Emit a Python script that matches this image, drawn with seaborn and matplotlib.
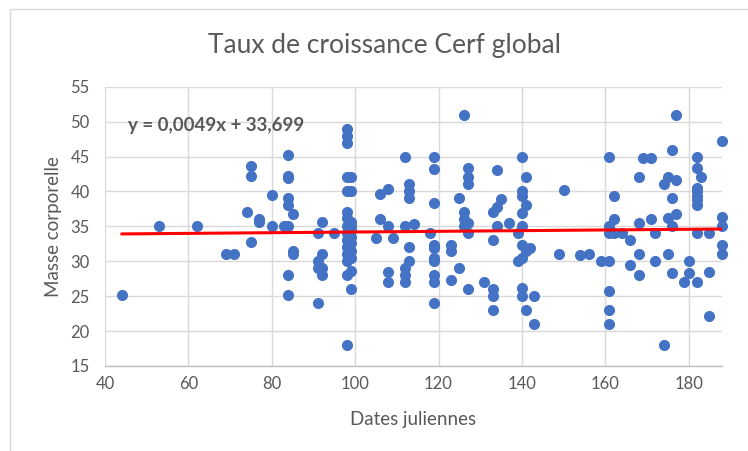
import numpy as np
import pandas as pd
import seaborn as sns
import matplotlib.pyplot as plt
from matplotlib.patches import Rectangle

# Julian dates (days) and body mass of each deer
jours = [
    44, 53, 62, 69, 71, 74,
    75, 75, 75, 77, 77, 80, 80, 83,
    84, 84, 84, 84, 84, 84, 84, 84,
    85, 85, 85,
    91, 91, 91, 91, 92, 92, 92, 92, 95,
    98, 98, 98, 98, 98, 98, 98, 98, 98, 98, 98, 98, 98, 98, 98,
    99, 99, 99, 99, 99, 99, 99, 99, 99, 99, 99,
    105, 106, 106, 108, 108, 108, 108, 109,
    112, 112, 112, 112, 112, 113, 113, 113, 113, 113, 114,
    118, 119, 119, 119, 119, 119, 119, 119, 119, 119, 119,
    123, 123, 123, 125, 125, 126, 126, 126, 126,
    127, 127, 127, 127, 127, 127, 131,
    133, 133, 133, 133, 133, 134, 134, 134, 135, 137, 139, 139,
    140, 140, 140, 140, 140, 140, 140, 140, 140,
    141, 141, 141, 141, 142, 143, 143, 149, 150, 154, 156, 159,
    161, 161, 161, 161, 161, 161, 161, 162, 162, 162, 164, 166, 166,
    168, 168, 168, 168, 169, 171, 171, 172, 172, 174, 174,
    175, 175, 175, 176, 176, 176, 176, 177, 177, 177, 179, 180, 180,
    182, 182, 182, 182, 182, 182, 182, 182, 182, 183,
    185, 185, 185, 188, 188, 188, 188, 188,
]
masses = [
    25.2, 35, 35, 31, 31, 37,
    43.6, 42.2, 32.7, 36.1, 35.6, 39.5, 35, 35,
    35.1, 45.2, 42.2, 41.9, 39, 38, 28, 25.2,
    36.7, 31.4, 31,
    34, 30, 29, 24, 35.6, 31, 29, 28.1, 34,
    48.9, 48, 47, 42, 40, 37, 36.2, 35, 34, 33, 32, 31, 30, 28, 18,
    42, 40, 35.6, 35, 34.5, 33.5, 32.6, 31.4, 30.5, 28.6, 26,
    33.3, 39.7, 36.1, 40.3, 35.1, 28.4, 27, 33.3,
    45, 35, 29, 28.1, 27, 41, 40, 39, 32, 30, 35.4,
    34, 45, 43.2, 38.4, 32.4, 31.9, 30.5, 30, 28, 27, 24,
    32.4, 31.4, 27.3, 39, 29, 51, 37, 36, 35,
    43.4, 42, 41, 35.5, 34, 26, 27,
    37, 33, 26, 25, 23, 37.8, 43, 35.1, 38.9, 35.5, 34, 30,
    45, 40, 39.4, 36.9, 35, 32.4, 30.5, 26.1, 25,
    42, 38.1, 31.5, 23, 31.9, 25, 21, 31, 40.2, 30.9, 31, 30,
    45, 35.1, 34, 30, 25.8, 23, 21, 39.4, 36.1, 34, 34, 33, 29.4,
    42.1, 35.5, 31, 28, 44.8, 44.8, 36, 34, 30, 41, 18,
    42.1, 36.2, 31, 46, 39, 35, 28.3, 51, 41.7, 36.7, 27, 30, 28.3,
    45, 43.3, 40.5, 40, 39.3, 38.8, 38.1, 34, 27, 42,
    34, 28.4, 22.2, 47.2, 36.4, 35.1, 32.4, 31,
]

# Linear trend shown on the chart
pente = 0.0049
ordonnee = 33.699

x_ticks = [40, 60, 80, 100, 120, 140, 160, 180]
y_ticks = [15, 20, 25, 30, 35, 40, 45, 50, 55]

titre = "Taux de croissance Cerf global"
label_x = "Dates juliennes"
label_y = "Masse corporelle"

df = pd.DataFrame({"jour": jours, "masse": masses})

sns.set_theme(style="white")
plt.rcParams["font.family"] = ["Lato", "DejaVu Sans"]

gris_texte = "#595959"
gris_grille = "#d9d9d9"

fig = plt.figure(figsize=(7.48, 4.51), dpi=100)
ax = fig.add_axes([105 / 748, 1 - 366 / 451, (722 - 105) / 748, (366 - 86.7) / 451])

sns.scatterplot(data=df, x="jour", y="masse", ax=ax, color="#4472C4",
                s=64, linewidth=0, zorder=3, clip_on=False)

xt = np.array([df["jour"].min(), df["jour"].max()])
sns.lineplot(x=xt, y=pente * xt + ordonnee, ax=ax, color="#FF0000",
             linewidth=2.2, zorder=4)

ax.set_xlim(40, 188)
ax.set_ylim(15, 55)
ax.set_xticks(x_ticks)
ax.set_yticks(y_ticks)
ax.grid(True, color=gris_grille, linewidth=1.0)
ax.set_axisbelow(True)
for s in ["top", "right", "left"]:
    ax.spines[s].set_visible(False)
ax.spines["bottom"].set_color("#bfbfbf")
ax.spines["bottom"].set_linewidth(1.0)

ax.tick_params(axis="both", length=0, labelsize=12, labelcolor=gris_texte)
ax.tick_params(axis="y", pad=11)
ax.tick_params(axis="x", pad=7)

ax.set_xlabel(label_x, fontsize=13.5, color=gris_texte, labelpad=14)
ax.set_ylabel(label_y, fontsize=13.5, color=gris_texte, labelpad=6)

fig.text(385 / 748, 1 - 45 / 451, titre, ha="center", va="center",
         fontsize=19, color=gris_texte)

ax.text(128 / 748, 1 - 125 / 451, f"y = {str(pente).replace('.', ',')}x + {str(ordonnee).replace('.', ',')}",
        transform=fig.transFigure, ha="left", va="center",
        fontsize=13.5, fontweight="bold", color=gris_texte)

# Chart area border
fig.patches.append(Rectangle((10 / 748, -0.1), 1.2, 1.1 - 9 / 451,
                             transform=fig.transFigure, fill=False,
                             edgecolor=gris_grille, linewidth=1.0))

fig.savefig("out.png", dpi=100, facecolor="white")
